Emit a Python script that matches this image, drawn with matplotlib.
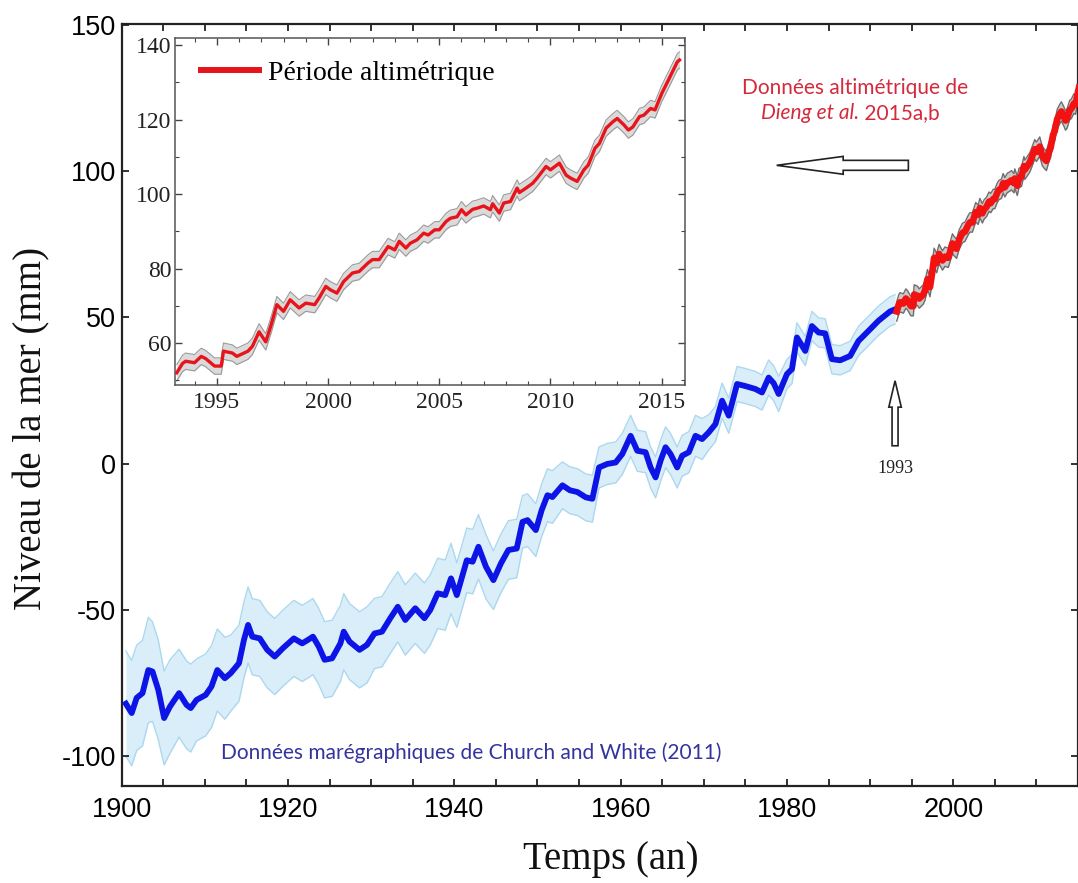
import matplotlib
matplotlib.use("Agg")
import matplotlib.pyplot as plt
from matplotlib.lines import Line2D
from matplotlib.ticker import MultipleLocator
import numpy as np

# Church and White (2011) tide-gauge reconstruction (mm) and its uncertainty
blue_years = [1900.5, 1901.2, 1901.8, 1902.5, 1903.2, 1903.7, 1904.4, 1905.1, 1905.8, 1906.9, 1907.8, 1908.3, 1909.0,
              1910.1, 1910.8, 1911.5, 1912.4, 1913.1, 1914.1, 1914.7, 1915.2, 1915.7, 1916.6, 1917.5, 1918.4, 1919.4,
              1920.7, 1921.7, 1922.4, 1923.0, 1923.7, 1924.4, 1925.3, 1926.3, 1926.7, 1927.4, 1928.6, 1929.5,
              1930.4, 1931.3, 1932.3, 1933.2, 1934.1, 1935.3, 1936.4, 1937.1, 1938.0, 1938.9, 1939.6,
              1940.3, 1941.5, 1942.2, 1942.9, 1943.8, 1944.7, 1945.6, 1946.5, 1947.5, 1948.2, 1948.8, 1949.8,
              1950.5, 1951.2, 1951.8, 1953.0, 1953.9, 1954.8, 1955.8, 1956.6, 1957.4, 1958.4, 1959.4,
              1960.2, 1961.2, 1962.0, 1963.0, 1963.6, 1964.2, 1964.8, 1965.4, 1966.0, 1966.8, 1967.4, 1968.2, 1969.0, 1969.8,
              1970.6, 1971.4, 1972.2, 1973.0, 1974.0, 1975.0, 1976.2, 1977.0, 1977.8, 1978.4, 1979.0,
              1980.0, 1980.6, 1981.2, 1982.2, 1983.0, 1983.8, 1984.6, 1985.4, 1986.4, 1987.6, 1988.6, 1990.0, 1991.0, 1992.4, 1993.0]
blue_mm = [-82, -85.2, -80, -78.4, -70.5, -71, -77.3, -86.9, -83, -78.4, -82.4, -83.5, -80.7,
           -79, -76.1, -70.5, -73.3, -71.6, -68.2, -60.2, -55.1, -59.1, -59.7, -63.6, -65.9, -63,
           -59.7, -61.4, -60.2, -59.1, -62.5, -67, -66.5, -61.4, -57.4, -60.8, -63.6, -61.9,
           -58, -57.4, -52.8, -48.9, -53.4, -49.4, -52.8, -50, -44.3, -44.9, -39.2,
           -44.9, -33, -33.5, -28.4, -35.2, -39.8, -34.1, -29.5, -29, -19.9, -19.3, -22.7,
           -15.9, -10.8, -11.4, -7.4, -9.1, -9.7, -11.5, -12, -1.3, -0.1, 0.4,
           3.3, 9.5, 4.4, 3.9, -1.3, -4.7, 1.0, 5.6, 3.3, -1.3, 2.7, 3.9, 9.5, 8.4,
           10.7, 13.5, 21.5, 16.4, 27.2, 26.5, 25.5, 24.3, 29.4, 27.5, 23.8,
           30.6, 32.3, 43.1, 38.5, 47, 44.8, 44.5, 35.7, 35.3, 36.8, 41.9, 45.9, 48.8, 52.0, 52.7]
blue_err = [18, 18, 18, 18, 18, 17, 17, 16, 16, 15, 15, 15, 14,
            14, 14, 14, 14, 13, 13, 13, 13, 13, 13, 13, 13, 13,
            13, 13, 13, 13, 13, 13, 13, 13, 13, 13, 13, 13,
            12, 12, 12, 12, 12, 12, 12, 12, 12, 12, 12,
            11, 11, 11, 11, 11, 10, 10, 10, 10, 9, 9, 9,
            9, 9, 9, 8, 8, 8, 8, 8, 7, 7, 7,
            7, 7, 7, 7, 7, 7, 7, 7, 7, 7, 7, 7, 7, 7,
            6, 6, 6, 6, 6, 6, 6, 6, 6, 6, 6,
            5, 5, 5, 5, 5, 5, 5, 5, 5, 5, 5, 5, 5, 5, 5]

# satellite altimetry (Dieng et al. 2015a,b), mm
red_years = [1993.2, 1993.46, 1993.6, 1994.0, 1994.3, 1994.5, 1994.9, 1995.2, 1995.3, 1995.7, 1995.9,
             1996.4, 1996.6, 1996.9, 1997.2, 1997.45, 1997.7, 1998.0, 1998.3, 1998.7, 1999.0, 1999.4,
             1999.6, 1999.9, 2000.1, 2000.4, 2000.7, 2001.1, 2001.4, 2001.8, 2002.0, 2002.3, 2002.7,
             2003.0, 2003.2, 2003.5, 2003.7, 2004.0, 2004.3, 2004.5, 2004.8, 2005.0, 2005.3, 2005.5,
             2005.8, 2006.0, 2006.2, 2006.5, 2006.7, 2007.0, 2007.3, 2007.4, 2007.7, 2007.9, 2008.2,
             2008.5, 2008.6, 2008.9, 2009.2, 2009.4, 2009.8, 2010.0, 2010.2, 2010.4, 2010.7, 2010.9,
             2011.2, 2011.5, 2011.7, 2012.0, 2012.2, 2012.5, 2012.8, 2013.0, 2013.3, 2013.5, 2013.7,
             2014.0, 2014.2, 2014.5, 2014.7, 2015.0, 2015.3, 2015.7, 2015.8]
red_mm = [52.0, 54.5, 55.1, 54.7, 56.4, 55.8, 53.8, 53.8, 57.8, 57.3, 56.4,
          57.8, 59.1, 63.0, 60.3, 65.0, 70.3, 68.5, 71.6, 69.4, 70.7, 70.3,
          72.1, 75.2, 74.3, 73.4, 76.5, 78.8, 79.2, 81.5, 82.4, 82.4, 85.9,
          85.0, 87.3, 85.5, 86.8, 87.7, 89.5, 89.0, 90.4, 90.4, 92.6, 93.5,
          93.9, 95.8, 94.4, 95.9, 96.2, 96.8, 95.8, 97.4, 94.9, 97.6, 98.0,
          101.6, 100.4, 101.6, 102.9, 104.3, 107.4, 106.5, 107.4, 108.3, 105.1, 104.3,
          103.4, 106.5, 107.8, 112.3, 113.6, 117.7, 119.4, 120.3, 118.6, 117.2, 118.0,
          120.8, 121.2, 123.0, 122.6, 127.0, 130.6, 135.5, 136.0]
red_err = 2.2

plt.rcParams['font.family'] = ['Liberation Sans', 'DejaVu Sans']
plt.rcParams['axes.unicode_minus'] = False
serif = ['Liberation Serif', 'DejaVu Serif']
calib = ['Lato', 'DejaVu Sans']

fig = plt.figure(figsize=(10.78, 8.83), dpi=100)
ax = fig.add_axes([0.1129, 0.1099, 0.8871, 0.8630])

by, bm, be = np.array(blue_years), np.array(blue_mm), np.array(blue_err)
ry, rm = np.array(red_years), np.array(red_mm)

# tide gauges
ax.fill_between(by, bm - be, bm + be, color='#daeef9', lw=0, zorder=1)
ax.plot(by, bm - be, color='#acd8ef', lw=1, zorder=1.5)
ax.plot(by, bm + be, color='#acd8ef', lw=1, zorder=1.5)
ax.plot(by, bm, color='#0c14e6', lw=4.2, zorder=3, solid_joinstyle='round')

# altimetry
ax.fill_between(ry, rm - 1.5 * red_err, rm + 1.5 * red_err, color='#c9c9c9', lw=0, zorder=2)
ax.plot(ry, rm - 1.5 * red_err, color='#6e6e6e', lw=1, zorder=2.5)
ax.plot(ry, rm + 1.5 * red_err, color='#6e6e6e', lw=1, zorder=2.5)
ax.plot(ry, rm, color='#f21212', lw=4.8, zorder=4, solid_joinstyle='round')

ax.set_xlim(1900, 2015)
ax.set_ylim(-110.1, 150.2)
ax.set_xticks(range(1900, 2001, 20))
ax.xaxis.set_minor_locator(MultipleLocator(5))
ax.set_yticks(range(-100, 151, 50))
ax.tick_params(which='both', direction='in', top=True, right=True, length=5, width=1.3,
               labelsize=19.5, color='#222222')
ax.tick_params(axis='x', pad=8)
ax.tick_params(axis='y', pad=4)
for s in ax.spines.values():
    s.set_linewidth(1.6)
    s.set_color('#222222')

fig.text(0.030, 0.515, 'Niveau de la mer (mm)', rotation=90, ha='center', va='center',
         family=serif, fontsize=28, color='#111111')
fig.text(0.567, 0.027, 'Temps (an)', ha='center', va='center', family=serif, fontsize=28,
         color='#111111')

# annotations
ax.text(1912.0, -98.9, 'Données marégraphiques de Church and White (2011)', ha='left', va='center',
        family=calib, fontsize=15, color='#34349e')
ax.text(1974.6, 128.2, 'Données altimétrique de', ha='left', va='center', family=calib,
        fontsize=15, color='#d42a3c')
t_it = ax.text(1976.9, 119.7, 'Dieng et al.', ha='left', va='center', family=calib,
               fontstyle='italic', fontsize=15, color='#d42a3c')
ax.annotate(' 2015a,b', xy=(1, 0.5), xycoords=t_it, ha='left', va='center', family=calib,
            fontsize=15, color='#d42a3c')

ax.arrow(1994.6, 101.9, -15.84, 0, width=3.4, head_width=6.1, head_length=8.0,
         length_includes_head=True, fc='white', ec='#222222', lw=1.2, zorder=5)
ax.arrow(1993.0, 6.1, 0, 22.2, width=0.72, head_width=1.5, head_length=9,
         length_includes_head=True, fc='white', ec='#222222', lw=1.2, zorder=5)
ax.text(1993.0, -1.7, '1993', ha='center', va='center', family=serif, fontsize=13, color='#222222')

# inset: altimetry period
axin = fig.add_axes([0.1619, 0.5635, 0.4736, 0.3934])
axin.fill_between(ry, rm - red_err, rm + red_err, color='#dadada', lw=0, zorder=1)
axin.plot(ry, rm - red_err, color='#9a9a9a', lw=0.8, zorder=1.5)
axin.plot(ry, rm + red_err, color='#9a9a9a', lw=0.8, zorder=1.5)
axin.plot(ry, rm, color='#e8141c', lw=2.4, zorder=3)
axin.set_xlim(1993.1, 2016.05)
axin.set_ylim(48.6, 141.9)
axin.set_xticks(range(1995, 2016, 5))
axin.xaxis.set_minor_locator(MultipleLocator(1))
axin.set_yticks(range(60, 141, 20))
axin.yaxis.set_minor_locator(MultipleLocator(10))
axin.tick_params(which='both', direction='in', top=True, right=True, labelsize=17,
                 color='#444444', labelcolor='#222222')
axin.tick_params(which='major', length=5, width=1)
axin.tick_params(which='minor', length=3, width=0.8)
axin.tick_params(axis='y', pad=2)
axin.tick_params(axis='x', pad=5)
for lab in axin.get_xticklabels() + axin.get_yticklabels():
    lab.set_family(serif)
for s in axin.spines.values():
    s.set_linewidth(1.1)
    s.set_color('#555555')

handle = Line2D([], [], color='#e8141c', lw=4.3)
axin.legend([handle], ['Période altimétrique'], loc='upper left', bbox_to_anchor=(0.052, 0.935),
            frameon=False, borderpad=0, borderaxespad=0, handlelength=2.1, handletextpad=0.3,
            prop={'family': serif, 'size': 20})

fig.savefig('out.png', dpi=100)
